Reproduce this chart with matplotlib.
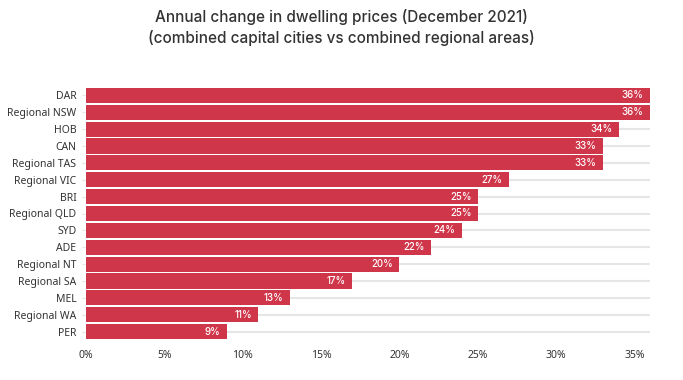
import numpy as np
import matplotlib.pyplot as plt

regions = ['DAR', 'Regional NSW', 'HOB', 'CAN', 'Regional TAS', 'Regional VIC',
           'BRI', 'Regional QLD', 'SYD', 'ADE', 'Regional NT', 'Regional SA',
           'MEL', 'Regional WA', 'PER']
change = [36, 36, 34, 33, 33, 27, 25, 25, 24, 22, 20, 17, 13, 11, 9]
xticks = [0, 5, 10, 15, 20, 25, 30, 35]

plt.rcParams['font.family'] = ['Noto Sans', 'DejaVu Sans']

fig = plt.figure(figsize=(6.83, 3.8), dpi=100)
ax = fig.add_axes([86 / 683, 1 - 340 / 380, (650 - 86) / 683, (340 - 87) / 380])

y = np.arange(len(regions))
ax.barh(y, change, height=0.9, color='#D0364A', zorder=2)
for yi, v in zip(y, change):
    ax.text(v - 0.4, yi, f'{v}%', color='white', ha='right', va='center',
            fontsize=7, family=['Inter', 'Noto Sans'], fontweight='medium', zorder=3)

ax.set_yticks(y)
ax.set_yticklabels(regions, fontsize=7.5, color='#333333')
ax.set_xticks(xticks)
ax.set_xticklabels([f'{t}%' for t in xticks], fontsize=7.5, color='#333333')
ax.set_xlim(0, 36)
ax.set_ylim(len(regions) - 0.5, -0.5)
ax.grid(axis='y', color='#e6e6e6', linewidth=1.5, zorder=0)
ax.grid(axis='x', visible=False)
for s in ax.spines.values():
    s.set_visible(False)
ax.tick_params(axis='y', length=3, color='#e6e6e6', pad=4)
ax.tick_params(axis='x', length=0, pad=7)

title_font = dict(ha='center', va='center', fontsize=11, color='#333333',
                  family=['Inter', 'Noto Sans'], fontweight='medium')
fig.text(0.5, 1 - 17 / 380, 'Annual change in dwelling prices (December 2021)', **title_font)
fig.text(0.5, 1 - 38 / 380, '(combined capital cities vs combined regional areas)', **title_font)

fig.savefig('out.png', dpi=100)
